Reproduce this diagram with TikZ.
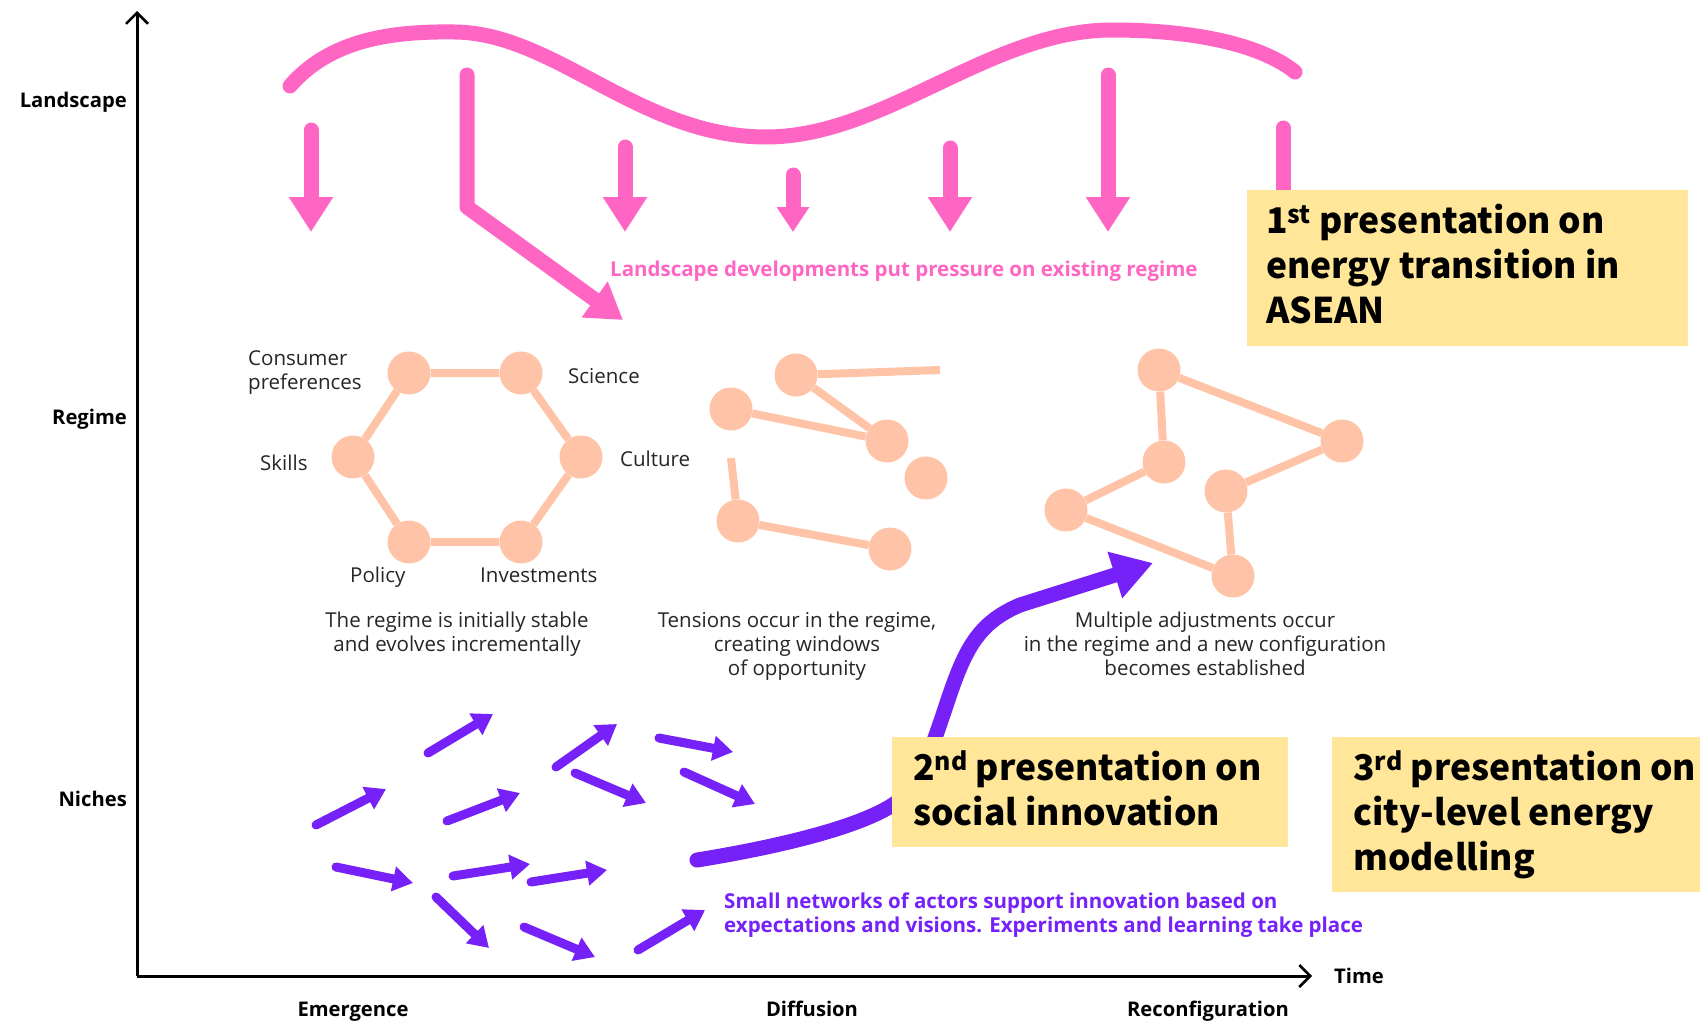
\documentclass[tikz,border=0pt]{standalone}
\usepackage{fontspec}
\setmainfont{Open Sans}
\newfontfamily\boxfont{Noto Sans CJK JP}
\usetikzlibrary{arrows.meta}
\definecolor{pinkc}{HTML}{FF66C4}
\definecolor{peachc}{HTML}{FFC4A8}
\definecolor{purpc}{HTML}{7521F7}
\definecolor{boxc}{HTML}{FFE699}
\tikzset{
 pnode/.style={circle, fill=peachc, minimum size=43pt, inner sep=0pt},
 pedge/.style={peachc, line width=8pt},
 parrow/.style={pinkc, line width=15pt, line cap=round, -{Triangle[length=35pt,width=42pt]}},
 sarrow/.style={purpc, line width=9pt, line cap=round, -{Triangle[length=20pt,width=24pt]}},
 lbl/.style={font=\fontsize{20.5}{24}\selectfont, inner sep=0pt, anchor=base west, text=black!85},
 capt/.style={font=\fontsize{20.5}{24}\selectfont, inner sep=0pt, anchor=base, text=black!85},
 axl/.style={font=\fontsize{20.2}{24}\selectfont\bfseries, inner sep=0pt},
 ybox/.style={fill=boxc, inner sep=0pt, anchor=north west},
 ytxt/.style={font=\boxfont\fontsize{35.4}{45}\selectfont\bfseries, inner sep=0pt, anchor=base west},
 ctxt/.style={font=\fontsize{20.5}{24}\selectfont\bfseries, inner sep=0pt, anchor=base west},
}
\begin{document}
\begin{tikzpicture}[x=1pt,y=-1pt]
\useasboundingbox (0,0) rectangle (1700,1020);
\fill[white] (0,0) rectangle (1700,1020);

% landscape wave
\draw[pinkc, line width=15pt, line cap=round]
  (290,86) .. controls (330,40) and (390,31) .. (455,32)
  .. controls (555,33) and (640,137) .. (766,137)
  .. controls (885,137) and (990,30) .. (1112,30)
  .. controls (1195,30) and (1262,45) .. (1295,72);

% pink pressure arrows
\draw[parrow] (311,130) -- (311,232);
\draw[parrow, line join=round] (467,75) -- (467,207) -- (623,320);
\draw[parrow] (625,147) -- (625,232);
\draw[pinkc, line width=15pt, line cap=round, -{Triangle[length=25pt,width=31pt]}] (793,175) -- (793,232);
\draw[parrow] (950,148) -- (950,232);
\draw[parrow] (1108,75) -- (1108,232);
\draw[pinkc, line width=15pt, line cap=round] (1283,128) -- (1283,210);

\node[ctxt, text=pinkc] (ptxt) at (610,276) {Landscape developments put pressure on existing regime};

% regime network 1
\node[pnode] (cp) at (409,373) {};
\node[pnode] (sc) at (521,373) {};
\node[pnode] (cu) at (581,457) {};
\node[pnode] (iv) at (521,542) {};
\node[pnode] (po) at (409,542) {};
\node[pnode] (sk) at (353,457) {};
\draw[pedge] (cp) -- (sc) -- (cu) -- (iv) -- (po) -- (sk) -- (cp);
\node[lbl] (l1) at (248,365) {Consumer};
\node[lbl] (l2) at (248,389) {preferences};
\node[lbl] (l3) at (568,383) {Science};
\node[lbl] (l4) at (260,470) {Skills};
\node[lbl] (l5) at (620,466) {Culture};
\node[lbl] (l6) at (350,582) {Policy};
\node[lbl] (l7) at (480,582) {Investments};
\node[capt] (c1a) at (457,627) {The regime is initially stable};
\node[capt] (c1b) at (457,651) {and evolves incrementally};

% regime network 2
\node[pnode] (na) at (796,375) {};
\node[pnode] (nb) at (731,409) {};
\node[pnode] (nc) at (887,441) {};
\node[pnode] (nd) at (926,478) {};
\node[pnode] (ne) at (738,521) {};
\node[pnode] (nf) at (890,549) {};
\coordinate (fa) at (940,370);
\coordinate (fe) at (731,458);
\draw[pedge] (na) -- (fa);
\draw[pedge] (na) -- (nc);
\draw[pedge] (nb) -- (nc);
\draw[pedge] (ne) -- (nf);
\draw[pedge] (ne) -- (fe);
\node[capt] (c2a) at (797,627) {Tensions occur in the regime,};
\node[capt] (c2b) at (797,651) {creating windows};
\node[capt] (c2c) at (797,675) {of opportunity};

% regime network 3
\node[pnode] (g) at (1159,370) {};
\node[pnode] (h) at (1342,441) {};
\node[pnode] (i) at (1164,462) {};
\node[pnode] (j) at (1066,510) {};
\node[pnode] (k) at (1226,491) {};
\node[pnode] (l) at (1233,576) {};
\draw[pedge] (g) -- (h);
\draw[pedge] (g) -- (i);
\draw[pedge] (i) -- (j);
\draw[pedge] (j) -- (l);
\draw[pedge] (l) -- (k);
\draw[pedge] (k) -- (h);
\node[capt] (c3a) at (1205,627) {Multiple adjustments occur};
\node[capt] (c3b) at (1205,651) {in the regime and a new configuration};
\node[capt] (c3c) at (1205,675) {becomes established};

% niche arrows
\draw[sarrow] (428,753) -- (493,714);
\draw[sarrow] (556,767) -- (617,724);
\draw[sarrow] (659,738) -- (733,752);
\draw[sarrow] (316,825) -- (386,789);
\draw[sarrow] (447,821) -- (520,793);
\draw[sarrow] (575,773) -- (646,803);
\draw[sarrow] (684,772) -- (755,804);
\draw[sarrow] (336,867) -- (413,883);
\draw[sarrow] (453,876) -- (530,864);
\draw[sarrow] (531,882) -- (607,870);
\draw[sarrow] (436,897) -- (489,948);
\draw[sarrow] (524,927) -- (595,957);
\draw[sarrow] (638,950) -- (705,910);

% big niche arrow
\draw[purpc, line width=15pt, line cap=round, -{Triangle[length=40pt,width=46pt]}]
  (697,860) .. controls (790,845) and (880,822) .. (905,795)
  .. controls (930,765) and (940,720) .. (955,680)
  .. controls (970,640) and (985,620) .. (1020,605) -- (1153,563);

\node[ctxt, text=purpc] (nt1) at (724,908) {Small networks of actors support innovation based on};
\node[ctxt, text=purpc] (nt2) at (724,932) {expectations and visions. Experiments and learning take place};

% presentation boxes
\node[ybox, minimum width=441pt, minimum height=156pt] (b1) at (1247,190) {};
\node[ytxt] (b1a) at (1266,233) {1\textsuperscript{st} presentation on};
\node[ytxt] (b1b) at (1266,278) {energy transition in};
\node[ytxt] (b1c) at (1266,323) {ASEAN};

\node[ybox, minimum width=396pt, minimum height=110pt] (b2) at (892,737) {};
\node[ytxt] (b2a) at (913,780) {2\textsuperscript{nd} presentation on};
\node[ytxt] (b2b) at (913,825) {social innovation};

\node[ybox, minimum width=368pt, minimum height=155pt] (b3) at (1332,737) {};
\node[ytxt] (b3a) at (1353,780) {3\textsuperscript{rd} presentation on};
\node[ytxt] (b3b) at (1353,825) {city-level energy};
\node[ytxt] (b3c) at (1353,870) {modelling};

% axes
\coordinate (o) at (137,976);
\coordinate (ytop) at (137,11);
\coordinate (xend) at (1312,976);
\draw[line width=3pt, -{Straight Barb[length=11pt,width=22pt,line width=2.5pt]}] (o) -- (ytop);
\draw[line width=3pt, -{Straight Barb[length=11pt,width=22pt,line width=2.5pt]}] (o) -- (xend);

\node[axl, anchor=base east] (al) at (127,107) {Landscape};
\node[axl, anchor=base east] (ar) at (127,424) {Regime};
\node[axl, anchor=base east] (an) at (127,806) {Niches};
\node[axl, anchor=base west] (at) at (1334,983) {Time};
\node[axl, anchor=base] (ae) at (353,1016) {Emergence};
\node[axl, anchor=base] (ad) at (812,1016) {Diffusion};
\node[axl, anchor=base] (ac) at (1208,1016) {Reconfiguration};
\end{tikzpicture}
\end{document}
